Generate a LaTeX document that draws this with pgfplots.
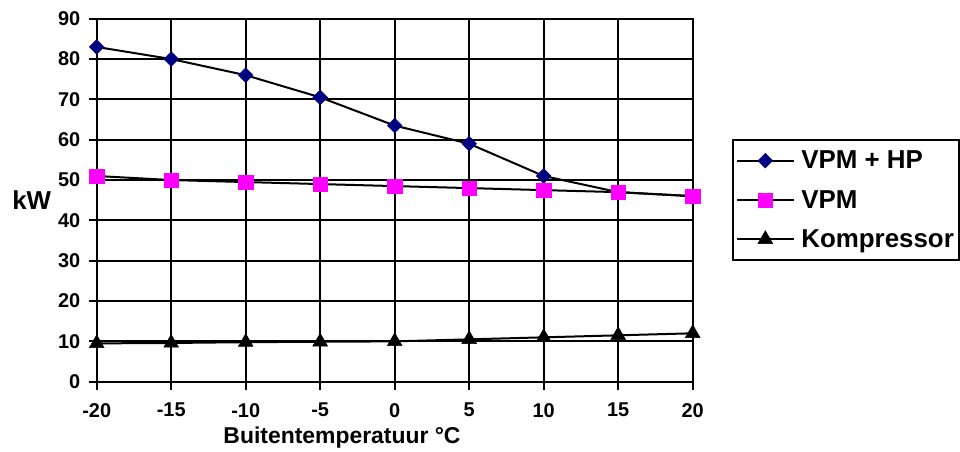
\documentclass[border=0pt]{standalone}
\usepackage{fontspec}
\setmainfont{Liberation Sans}
\usepackage{pgfplots}
\pgfplotsset{compat=1.18}
\definecolor{hpnavy}{RGB}{0,0,128}
\definecolor{vpmmag}{RGB}{255,0,255}
\begin{document}
\begin{tikzpicture}
\useasboundingbox (-96.7bp,-70.3bp) rectangle (863.3bp,381.7bp);
\begin{axis}[
    at={(0,0)}, anchor=south west,
    scale only axis,
    width=596bp, height=363bp,
    xmin=-20, xmax=20, ymin=0, ymax=90,
    xtick={-20,-15,...,20}, ytick={0,10,...,90},
    grid=major,
    major grid style={black, line width=2bp},
    axis line style={black, line width=2bp},
    tick style={black, line width=2bp},
    tick align=outside, major tick length=8bp,
    xtick pos=bottom, ytick pos=left,
    /pgf/number format/assume math mode=true,
    ticklabel style={font=\fontsize{20}{24}\selectfont\bfseries},
    xticklabel style={yshift=-10bp},
    yticklabel style={xshift=-5bp},
    xlabel={Buitentemperatuur °C},
    xlabel style={font=\fontsize{23}{27}\selectfont\bfseries, at={(rel axis cs:0.4116,0)}, anchor=center, yshift=-56bp},
    ylabel={kW},
    ylabel style={font=\fontsize{26}{30}\selectfont\bfseries, rotate=-90, at={(rel axis cs:0,0.5)}, anchor=center, xshift=-65bp},
    legend style={at={(rel axis cs:1.0665,0.6686)}, anchor=north west, draw=black, line width=2bp,
        font=\fontsize{26}{30}\selectfont\bfseries, row sep=16bp, column sep=4bp, inner xsep=3bp, inner ysep=9bp},
    legend cell align=left,
    legend image code/.code={\draw[mark repeat=2,mark phase=2,#1] plot coordinates {(0bp,0bp) (28bp,0bp) (57bp,0bp)};},
    clip=false,
]
\addplot[black, line width=2bp, mark=square*, mark size=5.2bp, mark options={rotate=45, fill=hpnavy, draw=hpnavy, line width=0.5bp}]
    coordinates {(-20,83) (-15,80) (-10,76) (-5,70.5) (0,63.5) (5,59) (10,51) (15,47) (20,46)};
\addlegendentry{VPM + HP}
\addplot[black, line width=2bp, mark=square*, mark size=7.2bp, mark options={fill=vpmmag, draw=vpmmag, line width=0.5bp}]
    coordinates {(-20,51) (-15,50) (-10,49.5) (-5,49) (0,48.5) (5,48) (10,47.5) (15,47) (20,46)};
\addlegendentry{VPM}
\addplot[black, line width=2bp, mark=triangle*, mark size=8.5bp, mark options={fill=black, draw=black, line width=0.5bp}]
    coordinates {(-20,9.5) (-15,9.6) (-10,9.8) (-5,9.9) (0,10) (5,10.5) (10,11) (15,11.5) (20,12)};
\addlegendentry{Kompressor}
\end{axis}
\end{tikzpicture}
\end{document}
